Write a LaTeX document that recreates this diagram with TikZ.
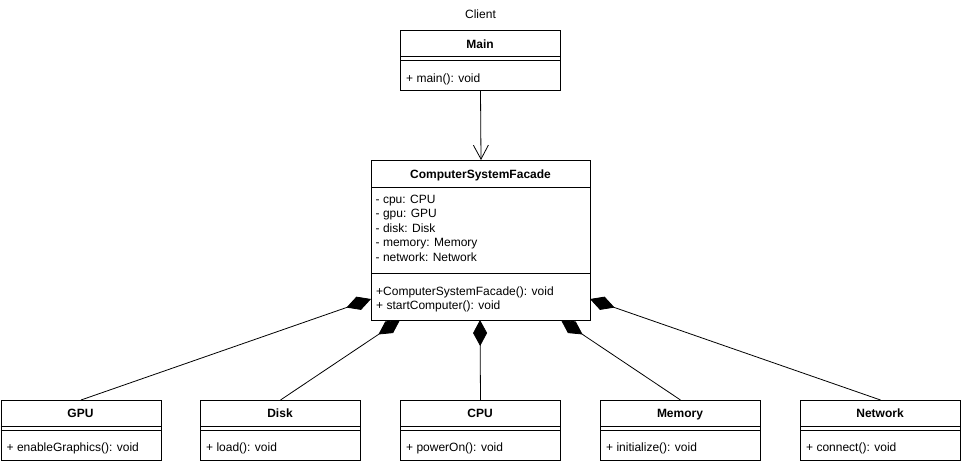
\documentclass[tikz,border=0pt]{standalone}
\usepackage{fontspec}
\setmainfont{Liberation Sans}
\usetikzlibrary{arrows.meta}
\newcommand\umlfs{\fontsize{12}{14}\selectfont}
\begin{document}
\begin{tikzpicture}[x=1pt,y=-1pt,
  box/.style={draw, line width=1pt, fill=white, inner sep=0pt, anchor=north west},
  ttl/.style={inner sep=0pt, anchor=base, font=\umlfs\bfseries},
  lbl/.style={inner sep=0pt, anchor=base, font=\umlfs},
  mem/.style={inner sep=0pt, anchor=base west, font=\umlfs},
  sep/.style={line width=1pt},
  comp/.style={line width=0.8pt, -{Diamond[length=26pt,width=14pt]}},
  assoc/.style={line width=0.8pt, -{Straight Barb[length=14pt,width=15pt]}}]
\useasboundingbox (0,0) rectangle (961,463);

% Client label
\node[lbl] (client) at (480.5,19) {Client};

% Main
\node[box, minimum width=160pt, minimum height=60pt] (main) at (400,30) {};
\draw[sep] (400,56) -- (560,56);
\draw[sep] (400,60) -- (560,60);
\node[ttl] (main-t) at (480,48) {Main};
\node[mem] (main-m) at (406,82) {+ main(): void};

% Facade
\node[box, minimum width=219pt, minimum height=160pt] (facade) at (371,160) {};
\draw[sep] (371,187) -- (590,187);
\draw[sep] (371,273) -- (590,273);
\node[ttl] (facade-t) at (480.5,178) {ComputerSystemFacade};
\node[mem] (a1) at (375.5,203) {- cpu: CPU};
\node[mem] (a2) at (375.5,217.5) {- gpu: GPU};
\node[mem] (a3) at (375.5,232) {- disk: Disk};
\node[mem] (a4) at (375.5,246.5) {- memory: Memory};
\node[mem] (a5) at (375.5,261) {- network: Network};
\node[mem] (m1) at (376,295) {+ComputerSystemFacade(): void};
\node[mem] (m2) at (376,309.5) {+ startComputer(): void};

% bottom classes
\newcommand\umlcls[4]{%
  \node[box, minimum width=160pt, minimum height=60pt] (#1) at (#2,400) {};
  \draw[sep] (#2,426) -- (#2+160,426);
  \draw[sep] (#2,430) -- (#2+160,430);
  \node[ttl] (#1-t) at (#2+80,417) {#3};
  \node[mem] (#1-m) at (#2+6,451.5) {#4};
}
\umlcls{gpu}{0.5}{GPU}{+ enableGraphics(): void}
\umlcls{disk}{200}{Disk}{+ load(): void}
\umlcls{cpu}{400}{CPU}{+ powerOn(): void}
\umlcls{memory}{600}{Memory}{+ initialize(): void}
\umlcls{network}{800}{Network}{+ connect(): void}

% attachment points on the facade
\coordinate (fGPU) at (371,299);
\coordinate (fDisk) at (400,320);
\coordinate (fCPU) at (480,320);
\coordinate (fMem) at (561,320);
\coordinate (fNet) at (590,299);

% connectors
\draw[assoc] (main.south) -- (facade.north);
\draw[comp] (gpu.north) -- (fGPU);
\draw[comp] (disk.north) -- (fDisk);
\draw[comp] (cpu.north) -- (fCPU);
\draw[comp] (memory.north) -- (fMem);
\draw[comp] (network.north) -- (fNet);
\end{tikzpicture}
\end{document}
